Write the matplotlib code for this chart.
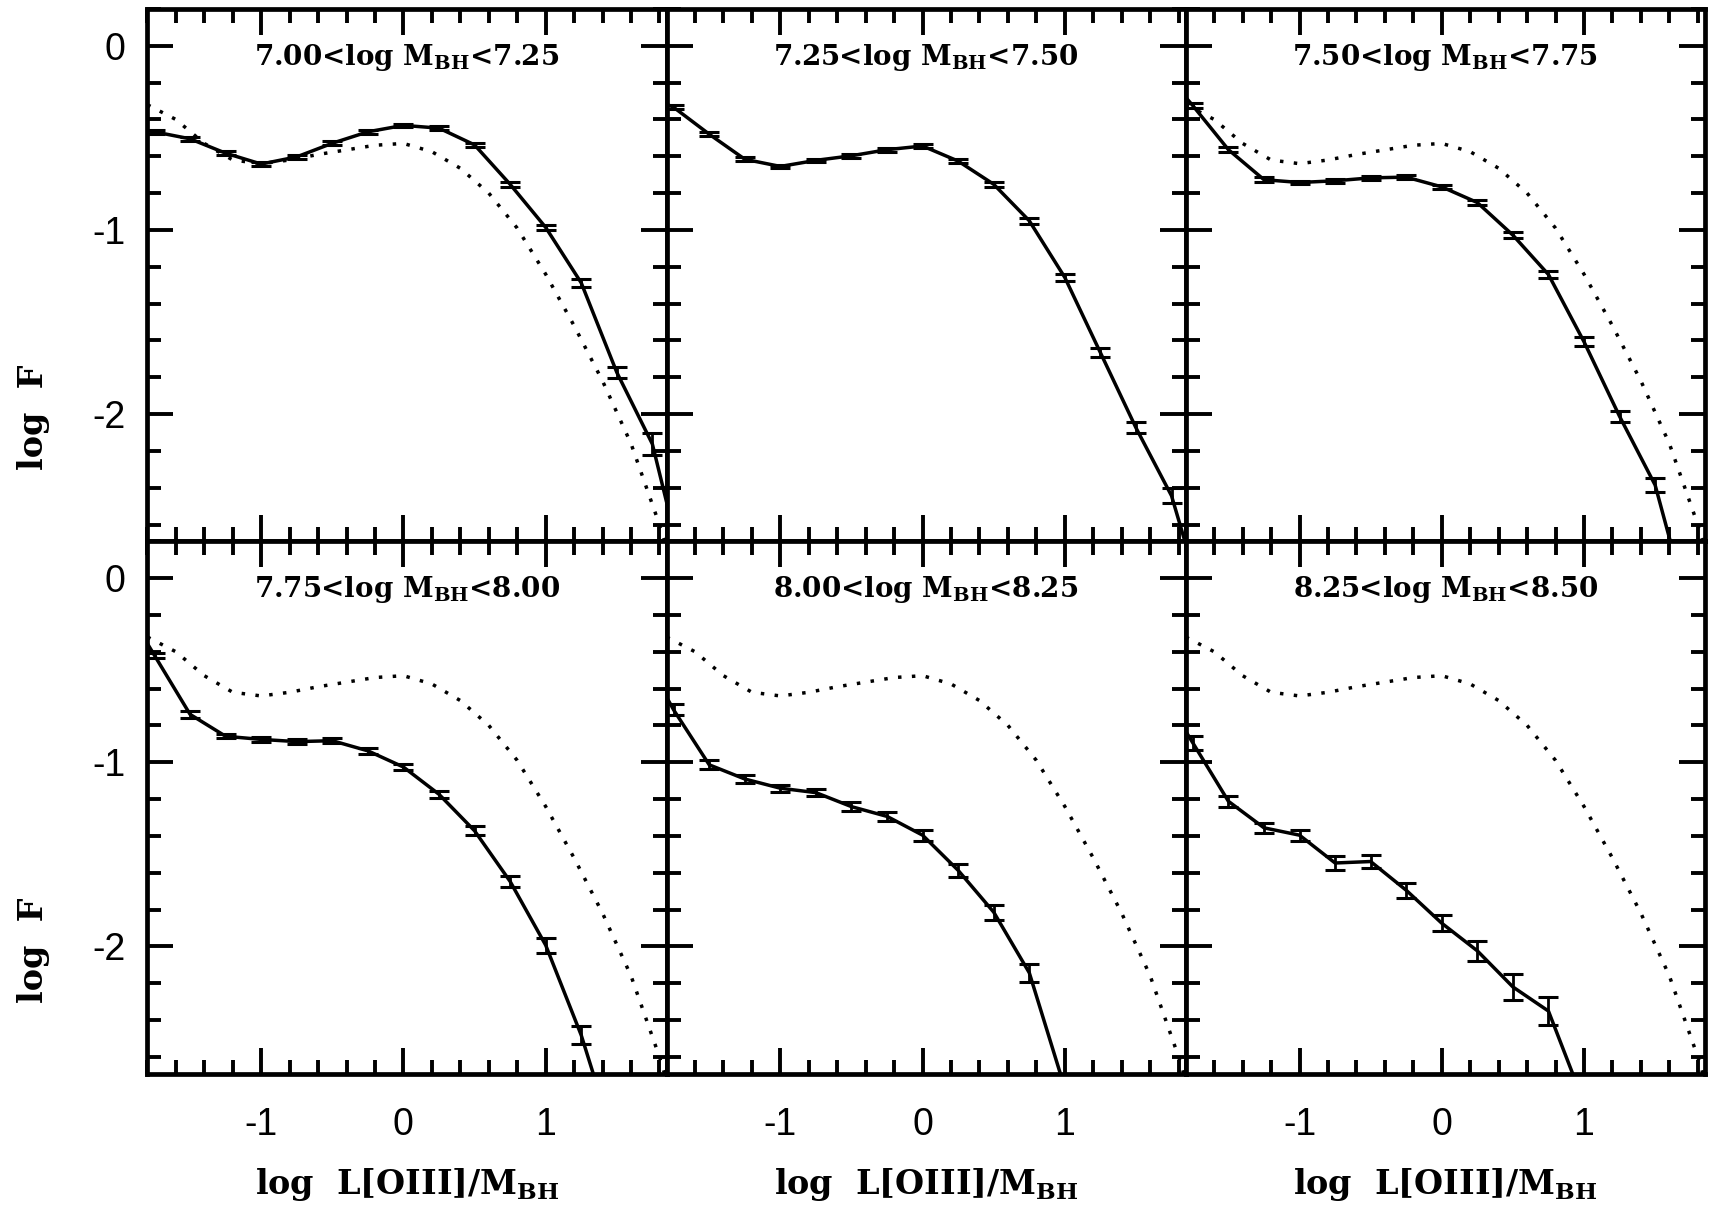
import numpy as np
import matplotlib
matplotlib.use("Agg")
import matplotlib.pyplot as plt

plt.rcParams['mathtext.fontset'] = 'dejavuserif'

# bin centres of log L[OIII]/M_BH (shared by all panels)
lum_bins = [-2.0, -1.75, -1.5, -1.25, -1.0, -0.75, -0.5, -0.25, 0.0,
            0.25, 0.5, 0.75, 1.0, 1.25, 1.5, 1.75, 2.0]

nan = np.nan
# log F for each black-hole mass bin (values below the axis are estimates)
logF_700_725 = [-0.44, -0.467, -0.505, -0.583, -0.642, -0.603, -0.529, -0.467, -0.432,
                -0.447, -0.538, -0.752, -0.986, -1.287, -1.773, -2.162, -2.95]
logF_725_750 = [-0.25, -0.334, -0.48, -0.616, -0.655, -0.622, -0.597, -0.564, -0.544,
                -0.626, -0.752, -0.95, -1.258, -1.666, -2.074, -2.443, -3.1]
logF_750_775 = [-0.1, -0.325, -0.564, -0.727, -0.742, -0.733, -0.717, -0.713, -0.766,
                -0.851, -1.028, -1.242, -1.607, -2.012, -2.385, -3.1, nan]
logF_775_800 = [-0.1, -0.42, -0.74, -0.859, -0.876, -0.888, -0.883, -0.938, -1.026,
                -1.174, -1.372, -1.647, -1.993, -2.482, -3.1, nan, nan]
logF_800_825 = [-0.37, -0.716, -1.014, -1.091, -1.141, -1.165, -1.241, -1.294, -1.396,
                -1.587, -1.814, -2.143, -2.77, nan, nan, nan, nan]
logF_825_850 = [-0.58, -0.895, -1.212, -1.356, -1.396, -1.547, -1.539, -1.695, -1.874,
                -2.024, -2.22, -2.351, -2.85, nan, nan, nan, nan]

err_700_725 = [0.01, 0.01, 0.01, 0.01, 0.01, 0.01, 0.01, 0.01, 0.01,
               0.01, 0.012, 0.012, 0.015, 0.02, 0.03, 0.06, 0.1]
err_725_750 = [0.01, 0.01, 0.012, 0.01, 0.01, 0.01, 0.01, 0.01, 0.01,
               0.01, 0.012, 0.015, 0.02, 0.025, 0.03, 0.04, 0.08]
err_750_775 = [0.01, 0.012, 0.015, 0.012, 0.01, 0.01, 0.01, 0.01, 0.01,
               0.012, 0.015, 0.02, 0.025, 0.03, 0.04, 0.08, nan]
err_775_800 = [0.01, 0.015, 0.02, 0.012, 0.012, 0.012, 0.012, 0.015, 0.015,
               0.02, 0.025, 0.03, 0.04, 0.05, 0.08, nan, nan]
err_800_825 = [0.02, 0.03, 0.025, 0.02, 0.02, 0.02, 0.025, 0.025, 0.03,
               0.035, 0.04, 0.05, 0.08, nan, nan, nan, nan]
err_825_850 = [0.03, 0.04, 0.03, 0.026, 0.03, 0.04, 0.036, 0.04, 0.044,
               0.054, 0.07, 0.074, 0.08, nan, nan, nan, nan]

# reference distribution (dotted); it lies under the 7.25-7.50 curve
ref_x = [-1.8, -1.6, -1.4, -1.2, -1.0, -0.8, -0.6, -0.4, -0.2, 0.0,
         0.2, 0.4, 0.6, 0.8, 1.0, 1.2, 1.4, 1.6, 1.8, 1.9]
ref_y = [-0.32, -0.40, -0.53, -0.62, -0.64, -0.62, -0.59, -0.565, -0.54, -0.53,
         -0.575, -0.665, -0.80, -0.99, -1.24, -1.52, -1.82, -2.16, -2.60, -2.85]

titles = ['7.00<log M$_{\\mathbf{BH}}$<7.25', '7.25<log M$_{\\mathbf{BH}}$<7.50',
          '7.50<log M$_{\\mathbf{BH}}$<7.75', '7.75<log M$_{\\mathbf{BH}}$<8.00',
          '8.00<log M$_{\\mathbf{BH}}$<8.25', '8.25<log M$_{\\mathbf{BH}}$<8.50']
series = [logF_700_725, logF_725_750, logF_750_775, logF_775_800, logF_800_825, logF_825_850]
errors = [err_700_725, err_725_750, err_750_775, err_775_800, err_800_825, err_825_850]
show_ref = [True, False, True, True, True, True]

fig, axes = plt.subplots(2, 3, figsize=(17.14, 12.13), dpi=100, sharex=True, sharey=True)
fig.subplots_adjust(left=0.086, right=0.9947, top=0.9926, bottom=0.115, wspace=0, hspace=0)

for ax, title, y, e, ref in zip(axes.flat, titles, series, errors, show_ref):
    if ref:
        ax.plot(ref_x, ref_y, color='black', lw=2.5, linestyle=(0, (1, 3)))
    ax.errorbar(lum_bins, y, yerr=e, color='black', lw=2.5, capsize=7, capthick=2.2,
                elinewidth=2)
    ax.text(0.5, 0.895, title, transform=ax.transAxes, ha='center', va='baseline',
            fontsize=20, family='DejaVu Serif', fontweight='bold')
    ax.set_xlim(-1.8, 1.85)
    ax.set_ylim(-2.69, 0.2)
    ax.set_xticks([-1, 0, 1])
    ax.set_yticks([-2, -1, 0])
    ax.set_xticks(np.arange(-1.8, 1.9, 0.2), minor=True)
    ax.set_yticks(np.arange(-2.6, 0.3, 0.2), minor=True)
    ax.tick_params(which='both', direction='in', top=True, right=True, width=2.8)
    ax.tick_params(which='major', length=19)
    ax.tick_params(which='minor', length=10)
    ax.tick_params(axis='y', pad=16)
    ax.tick_params(axis='x', pad=24)
    for s in ax.spines.values():
        s.set_linewidth(3.4)
    for lab in ax.get_xticklabels() + ax.get_yticklabels():
        lab.set_fontsize(27)
        lab.set_family('Liberation Sans')
    ax.set_xticklabels(['-1', '0', '1'])
    ax.set_yticklabels(['-2', '-1', '0'])

for ax in axes.flat:
    ax.label_outer()

for yc in [0.656, 0.217]:
    fig.text(0.0195, yc, 'log  F', rotation=90, ha='center', va='center',
             fontsize=24, family='DejaVu Serif', fontweight='bold')

for ax in axes[1]:
    pos = ax.get_position()
    fig.text((pos.x0 + pos.x1) / 2, 0.016, 'log  L[OIII]/M$_{\\mathbf{BH}}$', ha='center',
             va='baseline', fontsize=24, family='DejaVu Serif', fontweight='bold')

plt.savefig('out.png', dpi=100)
